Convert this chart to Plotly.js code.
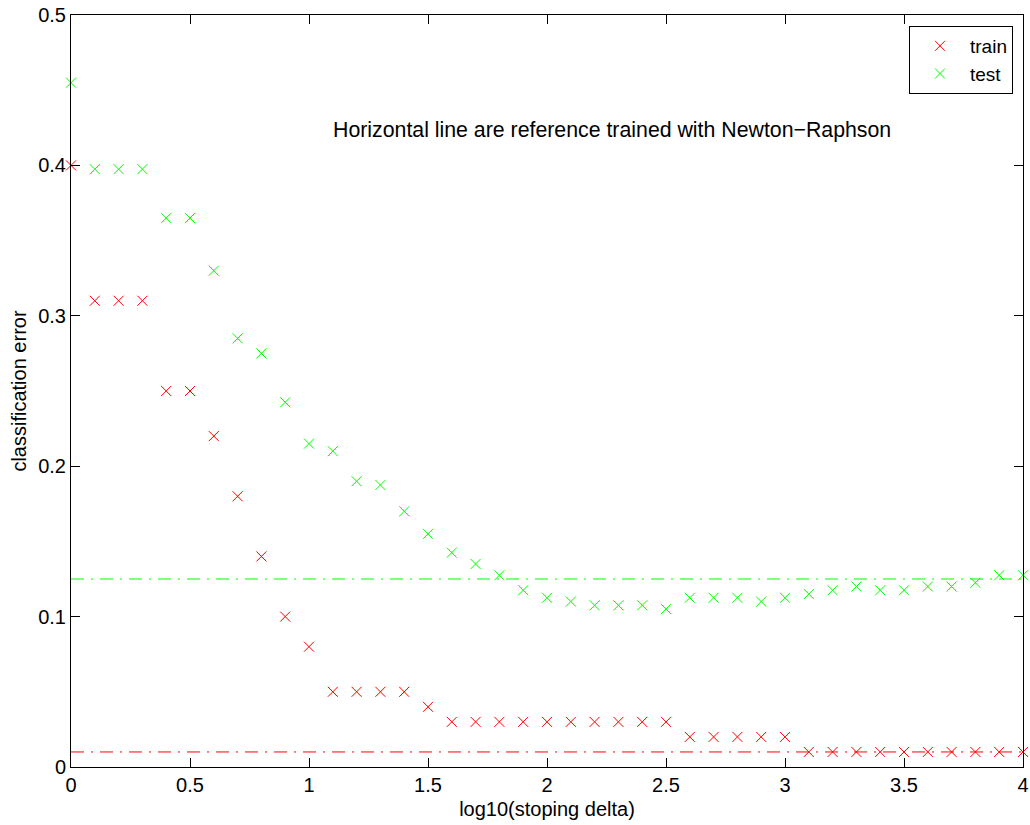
<!DOCTYPE html>
<html>
<head>
<meta charset="utf-8">
<script src="https://cdn.plot.ly/plotly-3.0.1.min.js"></script>
<style>html,body{margin:0;padding:0;background:#fff;}#chart{width:1030px;height:825px;}</style>
</head>
<body>
<div id="chart"></div>
<script>
const xVals = [0,0.1,0.2,0.3,0.4,0.5,0.6,0.7,0.8,0.9,1.0,1.1,1.2,1.3,1.4,1.5,1.6,1.7,1.8,1.9,2.0,2.1,2.2,2.3,2.4,2.5,2.6,2.7,2.8,2.9,3.0,3.1,3.2,3.3,3.4,3.5,3.6,3.7,3.8,3.9,4.0];
const trainErr = [0.40,0.31,0.31,0.31,0.25,0.25,0.22,0.18,0.14,0.10,0.08,0.05,0.05,0.05,0.05,0.04,0.03,0.03,0.03,0.03,0.03,0.03,0.03,0.03,0.03,0.03,0.02,0.02,0.02,0.02,0.02,0.01,0.01,0.01,0.01,0.01,0.01,0.01,0.01,0.01,0.01];
const testErr = [0.455,0.3975,0.3975,0.3975,0.365,0.365,0.33,0.285,0.275,0.2425,0.215,0.21,0.19,0.1875,0.17,0.155,0.1425,0.135,0.1275,0.1175,0.1125,0.11,0.1075,0.1075,0.1075,0.105,0.1125,0.1125,0.1125,0.11,0.1125,0.115,0.1175,0.12,0.1175,0.1175,0.12,0.12,0.1225,0.1275,0.1275];
const refX = [0,4];
const refTrain = [0.01,0.01];
const refTest = [0.125,0.125];
const seriesNames = ["train","test"];
const annotationText = "Horizontal line are reference trained with Newton\u2212Raphson";
const xTickVals = [0,0.5,1,1.5,2,2.5,3,3.5,4];
const xTickText = ["0","0.5","1","1.5","2","2.5","3","3.5","4"];
const yTickVals = [0,0.1,0.2,0.3,0.4,0.5];
const yTickText = ["0","0.1","0.2","0.3","0.4","0.5"];

const RED = "#ff0000", GREEN = "#00ff00";
const FONT = "Liberation Sans, Arial, Helvetica, sans-serif";
const dashDot = "13px,7px,2px,7px";

const traces = [
  {x: xVals, y: trainErr, name: seriesNames[0], mode: "markers", type: "scatter", cliponaxis: false,
   marker: {symbol: "x-thin", size: 10, color: RED, line: {color: RED, width: 1}}},
  {x: xVals, y: testErr, name: seriesNames[1], mode: "markers", type: "scatter", cliponaxis: false,
   marker: {symbol: "x-thin", size: 10, color: GREEN, line: {color: GREEN, width: 1}}},
  {x: refX, y: refTest, mode: "lines", type: "scatter", showlegend: false, hoverinfo: "skip",
   line: {color: GREEN, width: 1, dash: dashDot}},
  {x: refX, y: refTrain, mode: "lines", type: "scatter", showlegend: false, hoverinfo: "skip",
   line: {color: RED, width: 1, dash: dashDot}}
];

const axisCommon = {
  showline: true, linecolor: "#000", linewidth: 1, mirror: "ticks",
  ticks: "inside", ticklen: 9, tickwidth: 1, tickcolor: "#000",
  showgrid: false, zeroline: false, tickmode: "array",
  tickfont: {family: FONT, size: 20, color: "#000"}
};

const layout = {
  width: 1030, height: 825,
  margin: {l: 71, r: 7, t: 15, b: 58, pad: 0},
  paper_bgcolor: "#fff", plot_bgcolor: "#fff",
  font: {family: FONT, size: 20, color: "#000"},
  xaxis: Object.assign({}, axisCommon, {
    range: [0, 4], tickvals: xTickVals, ticktext: xTickText,
    title: {text: "log10(stoping delta)", font: {family: FONT, size: 20, color: "#000"}, standoff: 6}
  }),
  yaxis: Object.assign({}, axisCommon, {
    range: [0, 0.5], tickvals: yTickVals, ticktext: yTickText,
    title: {text: "classification error", font: {family: FONT, size: 20, color: "#000"}, standoff: 6}
  }),
  showlegend: true,
  legend: {
    x: 0.9895, xanchor: "right", y: 0.9854, yanchor: "top",
    bgcolor: "#fff", bordercolor: "#000", borderwidth: 1,
    font: {family: FONT, size: 19, color: "#000"},
    tracegroupgap: 0, itemwidth: 50
  },
  annotations: [{
    text: annotationText, x: 2.275, y: 0.4235, xref: "x", yref: "y",
    showarrow: false, font: {family: FONT, size: 21.3, color: "#000"}
  }]
};

Plotly.newPlot("chart", traces, layout, {displayModeBar: false, staticPlot: true});
</script>
</body>
</html>
